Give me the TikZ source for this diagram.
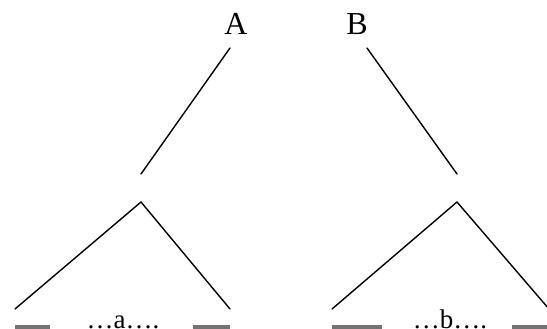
\documentclass[tikz,border=0pt]{standalone}
\usepackage{fontspec}
\setmainfont{Liberation Serif}
\usetikzlibrary{calc}

\begin{document}
\begin{tikzpicture}[x=1pt, y=-1pt,
    lbl/.style={inner sep=0pt, anchor=base, font=\fontsize{32}{36}\selectfont},
    dots/.style={inner sep=0pt, anchor=base, font=\fontsize{27}{30}\selectfont},
    branch/.style={line width=1.4pt, line cap=round},
    bar/.style={line width=4pt, draw=black!55}]

    \useasboundingbox (0,0) rectangle (547,329);

    % Labels
    \node[lbl] (A) at (236,35) {A};
    \node[lbl] (B) at (357,35) {B};
    \coordinate (A foot) at ($(A.base)+(-6,13)$);
    \coordinate (B foot) at ($(B.base)+(10,13)$);

    % Left tree
    \coordinate (a end) at (141,174);
    \coordinate (a peak) at (141,202);
    \coordinate (a left) at (15,309);
    \coordinate (a right) at (230,309);

    % Right tree
    \coordinate (b end) at (457,174);
    \coordinate (b peak) at (457,202);
    \coordinate (b left) at (332,309);
    \coordinate (b right) at (555,316);

    % Bottom strings
    \node[dots] (a str) at (123,328) {…a….};
    \node[dots] (b str) at (450,328) {…b….};

    \draw[branch] (A foot) -- (a end);
    \draw[branch] (a left) -- (a peak) -- (a right);
    \draw[branch] (B foot) -- (b end);
    \draw[branch] (b left) -- (b peak) -- (b right);

    % Bars
    \draw[bar] ($(a left)+(0,18)$) -- ++(35,0);
    \draw[bar] ($(a right)+(0,18)$) -- ++(-37,0);
    \draw[bar] ($(b left)+(0,18)$) -- ++(50,0);
    \draw[bar] (512,327) -- (547,327);
\end{tikzpicture}
\end{document}
